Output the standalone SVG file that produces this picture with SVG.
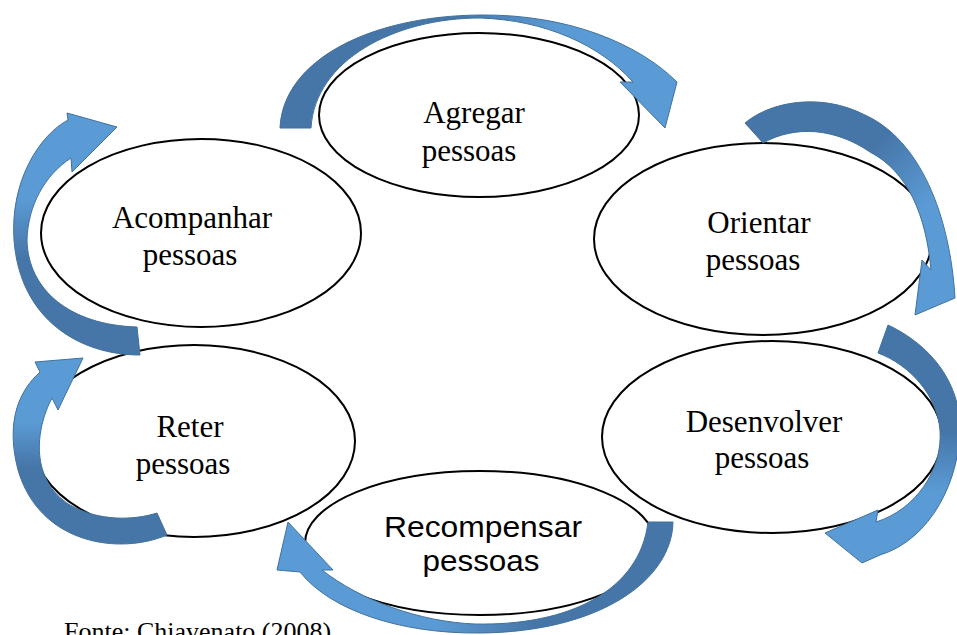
<svg xmlns="http://www.w3.org/2000/svg" width="957" height="635" viewBox="0 0 957 635">
<style>
.node ellipse{fill:#fff;stroke:#000;stroke-width:2}
.serif{font-family:"Liberation Serif","Times New Roman",serif;font-size:31px;fill:#000;text-anchor:middle}
.sans{font-family:"Liberation Sans",Arial,sans-serif;font-size:29px;fill:#000;text-anchor:middle}
.arrow{stroke:#41719C;stroke-width:1;stroke-linejoin:round}
</style>
<defs>
<linearGradient id="g1" gradientUnits="userSpaceOnUse" x1="280" y1="0" x2="677" y2="0">
<stop offset="0" stop-color="#4676A8"/><stop offset="0.45" stop-color="#4676A8"/><stop offset="0.7" stop-color="#5B9BD5"/><stop offset="1" stop-color="#5B9BD5"/>
</linearGradient>
<linearGradient id="g2" gradientUnits="userSpaceOnUse" x1="760" y1="110" x2="945" y2="300">
<stop offset="0" stop-color="#4676A8"/><stop offset="0.4" stop-color="#4676A8"/><stop offset="0.7" stop-color="#5B9BD5"/><stop offset="1" stop-color="#5B9BD5"/>
</linearGradient>
<linearGradient id="g3" gradientUnits="userSpaceOnUse" x1="0" y1="325" x2="0" y2="563">
<stop offset="0" stop-color="#4676A8"/><stop offset="0.45" stop-color="#4676A8"/><stop offset="0.7" stop-color="#5B9BD5"/><stop offset="1" stop-color="#5B9BD5"/>
</linearGradient>
<linearGradient id="g4" gradientUnits="userSpaceOnUse" x1="673" y1="0" x2="277" y2="0">
<stop offset="0" stop-color="#4676A8"/><stop offset="0.35" stop-color="#4676A8"/><stop offset="0.6" stop-color="#5B9BD5"/><stop offset="1" stop-color="#5B9BD5"/>
</linearGradient>
<linearGradient id="g5" gradientUnits="userSpaceOnUse" x1="0" y1="540" x2="0" y2="358">
<stop offset="0" stop-color="#4676A8"/><stop offset="0.4" stop-color="#4676A8"/><stop offset="0.65" stop-color="#5B9BD5"/><stop offset="1" stop-color="#5B9BD5"/>
</linearGradient>
<linearGradient id="g6" gradientUnits="userSpaceOnUse" x1="0" y1="355" x2="0" y2="113">
<stop offset="0" stop-color="#4676A8"/><stop offset="0.4" stop-color="#4676A8"/><stop offset="0.65" stop-color="#5B9BD5"/><stop offset="1" stop-color="#5B9BD5"/>
</linearGradient>
</defs>
<rect width="957" height="635" fill="#fff"/>
<g id="agregar" class="node">
<ellipse cx="479" cy="115" rx="160" ry="82"/>
<text class="serif" x="474" y="123">Agregar</text>
<text class="serif" x="469" y="161">pessoas</text>
</g>
<g id="acompanhar" class="node">
<ellipse cx="201" cy="233" rx="160" ry="94"/>
<text class="serif" x="192" y="228">Acompanhar</text>
<text class="serif" x="190" y="265">pessoas</text>
</g>
<g id="orientar" class="node">
<ellipse cx="763" cy="239" rx="169" ry="96"/>
<text class="serif" x="759" y="233">Orientar</text>
<text class="serif" x="753" y="270">pessoas</text>
</g>
<g id="desenvolver" class="node">
<ellipse cx="772" cy="437" rx="170" ry="96"/>
<text class="serif" x="764" y="432">Desenvolver</text>
<text class="serif" x="762" y="468">pessoas</text>
</g>
<g id="reter" class="node">
<ellipse cx="194" cy="441" rx="161" ry="96"/>
<text class="serif" x="190" y="437">Reter</text>
<text class="serif" x="183" y="474">pessoas</text>
</g>
<g id="recompensar" class="node">
<ellipse cx="480" cy="543" rx="175" ry="72"/>
<text class="sans" x="483" y="537" textLength="198" lengthAdjust="spacingAndGlyphs">Recompensar</text>
<text class="sans" x="481" y="571" textLength="117" lengthAdjust="spacingAndGlyphs">pessoas</text>
</g>
<g id="connectors">
<path class="arrow" fill="url(#g1)" d="M280,128 C283,60 370,16 480,15 C570,14 640,45 677,82 L665,128 L620,82 L633,82 C600,45 545,20 480,18 C395,18 315,60 311,128 Z"/>
<path class="arrow" fill="url(#g2)" d="M745,123 C770,102 820,92 865,115 C920,140 950,215 955,298 L915,315 L922,260 L931,270 C926,215 908,172 870,152 C835,128 795,125 763,143 Z"/>
<path class="arrow" fill="url(#g3)" d="M888,325 C920,340 955,370 960,420 C962,480 930,540 880,555 L862,563 L825,533 L878,510 L876,522 C915,510 943,470 940,430 C937,395 910,365 878,353 Z"/>
<path class="arrow" fill="url(#g4)" d="M648,522 L673,522 C672,580 600,632 480,633 C400,634 330,610 300,572 L277,570 L288,522 L333,570 L322,570 C360,600 420,622 475,624 C570,626 640,590 648,522 Z"/>
<path class="arrow" fill="url(#g5)" d="M157,513 L167,535 C120,555 40,545 18,470 C5,420 20,390 40,372 L35,362 L83,358 L58,410 L52,398 C35,430 30,480 70,505 C100,522 135,520 157,513 Z"/>
<path class="arrow" fill="url(#g6)" d="M137,327 L140,355 C80,355 20,320 14,240 C10,180 40,135 68,120 L67,113 L117,127 L72,172 L71,158 C45,175 28,205 27,240 C28,290 70,325 137,327 Z"/>
</g>
<text x="64" y="640" font-family="Liberation Serif, Times New Roman, serif" font-size="26" fill="#000">Fonte: Chiavenato (2008)</text>
</svg>
